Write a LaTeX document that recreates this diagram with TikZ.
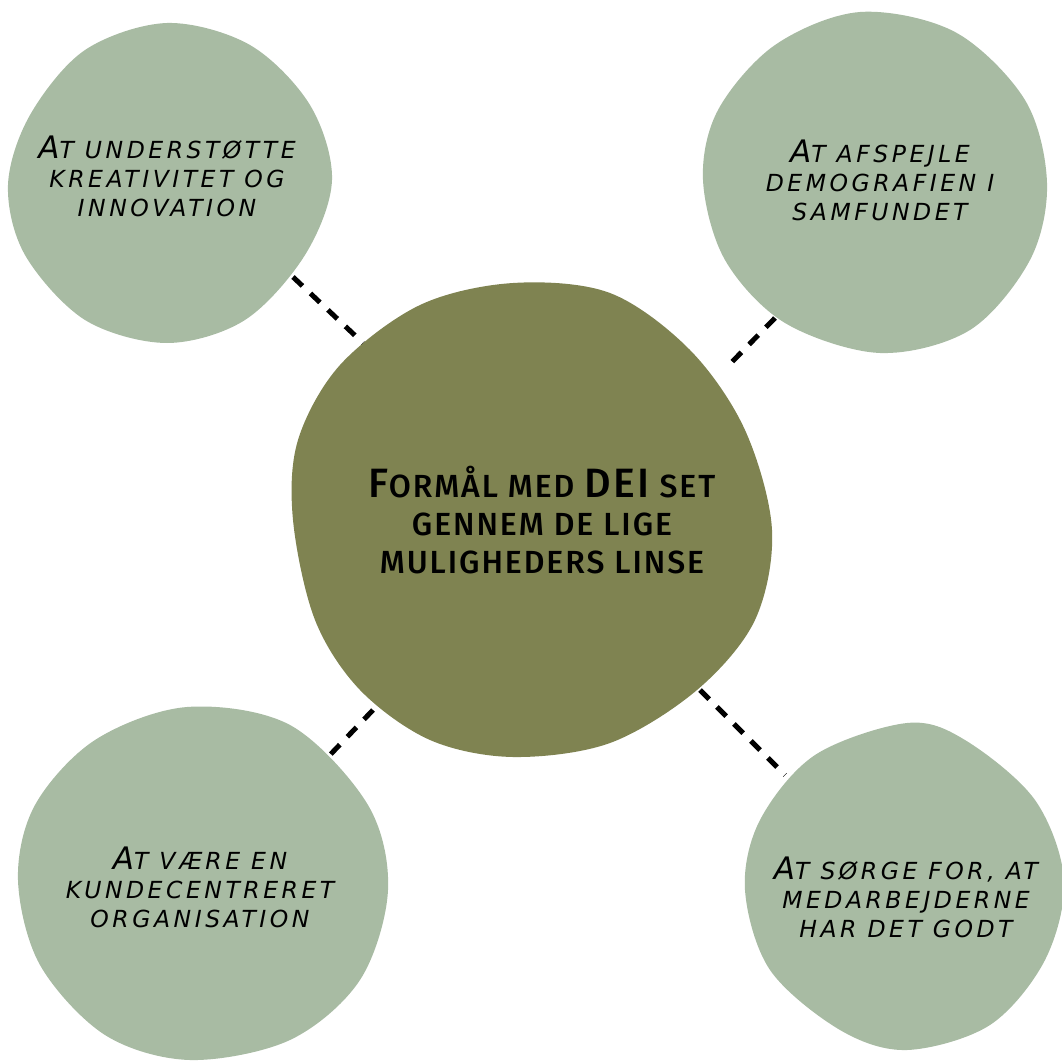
\documentclass[tikz,border=0pt]{standalone}
\usepackage{fontspec}
\setmainfont{Fira Sans Medium}
\newfontfamily\blasenschrift{DejaVu Sans}
\definecolor{sage}{RGB}{168,187,163}
\definecolor{olive}{RGB}{127,131,81}
% Kapitaelchen von Hand: grosser Anfangsbuchstabe
\newcommand{\grossA}[1]{{\fontsize{31}{29}\selectfont #1}}
\newcommand{\grossM}[1]{{\fontsize{41}{42}\selectfont #1}}
\tikzset{
  blob/.style={fill=sage},
  kern/.style={fill=olive},
  verbindung/.style={line width=5pt, dash pattern=on 13pt off 11pt},
  aussentext/.style={align=center, inner sep=0pt,
    font=\blasenschrift\addfontfeatures{LetterSpace=15}\itshape\fontsize{23.5}{29}\selectfont},
  kerntext/.style={align=center, inner sep=0pt,
    font=\addfontfeatures{LetterSpace=6}\fontsize{32}{38}\selectfont}
}
\begin{document}
\begin{tikzpicture}[x=1pt, y=-1pt]
\useasboundingbox (0,0) rectangle (1062,1062);
\begin{scope}
\clip (0,0) rectangle (1062,1062);
% Kern: Formaal mit DEI
\fill[kern] plot[smooth cycle, tension=0.55] coordinates {
  (513,283) (610,293) (690,350) (745,430) (772,530) (755,620)
  (697,690) (610,743) (513,757) (430,740) (360,690) (315,620)
  (293,520) (298,440) (340,365) (420,305)};
% vier Blasen
\fill[blob] plot[smooth cycle, tension=0.55] coordinates {
  (167,23) (85,50) (30,115) (8,185) (25,255) (85,320)
  (167,343) (245,320) (305,255) (332,180) (310,105) (250,45)};
\fill[blob] plot[smooth cycle, tension=0.55] coordinates {
  (860,12) (775,45) (718,110) (703,180) (725,260) (785,323)
  (880,353) (970,330) (1030,260) (1047,183) (1025,100) (955,32)};
\fill[blob] plot[smooth cycle, tension=0.55] coordinates {
  (187,707) (95,740) (35,805) (18,880) (40,965) (105,1035)
  (190,1060) (290,1040) (360,980) (388,890) (368,805) (290,725)};
\fill[blob] plot[smooth cycle, tension=0.55] coordinates {
  (907,723) (815,755) (760,820) (745,890) (770,970) (840,1030)
  (907,1050) (990,1025) (1045,960) (1064,880) (1035,800) (965,740)};
\end{scope}
% Enden der gestrichelten Linien
\coordinate (kernTL) at (363,343);
\coordinate (kernTR) at (727,367);
\coordinate (kernBL) at (373,710);
\coordinate (kernBR) at (700,690);
\coordinate (blobTL) at (293,277);
\coordinate (blobTR) at (775,318);
\coordinate (blobBL) at (328,757);
\coordinate (blobBR) at (785,775);
\draw[verbindung] (blobTL) -- (kernTL);
\draw[verbindung] (blobTR) -- (kernTR);
\draw[verbindung] (kernBL) -- (blobBL);
\draw[verbindung] (kernBR) -- (blobBR);
% Texte
\node[kerntext] (kern) at (542,520)
  {\grossM{F}ORMÅL MED \grossM{DEI} SET\\GENNEM DE LIGE\\MULIGHEDERS LINSE};
\node[aussentext] (tl) at (167,176)
  {\grossA{A}T UNDERSTØTTE\\KREATIVITET OG\\INNOVATION};
\node[aussentext] (tr) at (880,180)
  {\grossA{A}T AFSPEJLE\\DEMOGRAFIEN I\\SAMFUNDET};
\node[aussentext] (bl) at (200,887)
  {\grossA{A}T VÆRE EN\\KUNDECENTRERET\\ORGANISATION};
\node[aussentext] (br) at (906,897)
  {\grossA{A}T SØRGE FOR, AT\\MEDARBEJDERNE\\HAR DET GODT};
\end{tikzpicture}
\end{document}
